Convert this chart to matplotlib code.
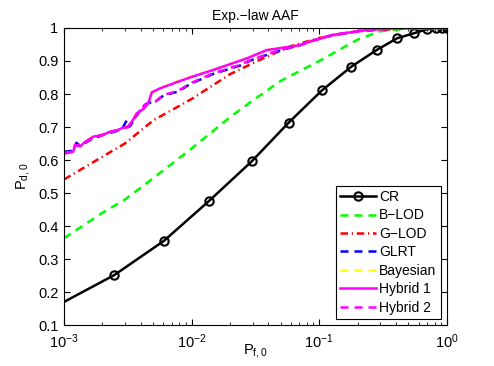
import matplotlib
matplotlib.use('Agg')
import matplotlib.pyplot as plt
import numpy as np

plt.rcParams.update({'font.size': 10, 'font.family': ['Liberation Sans', 'DejaVu Sans']})

# ---- data ----
cr_pf = [1e-3, 0.00248, 0.00604, 0.01368, 0.0295, 0.0575, 0.105, 0.1786,
         0.281, 0.408, 0.551, 0.693, 0.82, 0.908, 1.0]
cr_pd = [0.17, 0.2515, 0.3545, 0.4758, 0.5955, 0.713, 0.811, 0.883,
         0.933, 0.969, 0.984, 0.996, 0.999, 1.0, 1.0]

blod_pf = [1e-3, 2e-3, 3e-3, 5e-3, 1e-2, 2e-2, 3e-2, 5e-2, 0.1, 0.2, 0.3, 0.5, 1.0]
blod_pd = [0.363, 0.44, 0.48, 0.545, 0.635, 0.73, 0.78, 0.84, 0.90, 0.965, 0.99, 0.999, 1.0]

glod_pf = [1e-3, 2e-3, 3e-3, 5e-3, 1e-2, 2e-2, 3.4e-2, 6e-2, 0.1, 0.2, 0.5, 1.0]
glod_pd = [0.541, 0.61, 0.65, 0.72, 0.785, 0.86, 0.903, 0.945, 0.97, 0.99, 0.999, 1.0]

h1_pf = [1e-3, 1.18e-3, 1.22e-3, 1.35e-3, 1.46e-3, 1.7e-3, 2.0e-3, 2.29e-3, 2.6e-3,
         2.83e-3, 3.19e-3, 3.45e-3, 3.71e-3, 4.2e-3, 4.57e-3, 4.87e-3, 5.65e-3,
         7.18e-3, 9.7e-3, 0.0148, 0.0271, 0.0387, 0.0706, 0.0845, 0.128, 0.235,
         0.4, 1.0]
h1_pd = [0.62, 0.625, 0.645, 0.642, 0.655, 0.671, 0.675, 0.686, 0.69,
         0.696, 0.702, 0.72, 0.741, 0.755, 0.772, 0.805, 0.817,
         0.832, 0.85, 0.873, 0.908, 0.933, 0.948, 0.959, 0.979, 0.994,
         0.999, 1.0]

bay_pf = h1_pf
bay_pd = [0.62, 0.625, 0.645, 0.642, 0.655, 0.671, 0.675, 0.686, 0.69,
          0.696, 0.702, 0.722, 0.741, 0.757, 0.772, 0.803, 0.817,
          0.834, 0.851, 0.873, 0.908, 0.933, 0.948, 0.959, 0.979, 0.994,
          0.999, 1.0]

h2_pf = [1e-3, 1.18e-3, 1.22e-3, 1.35e-3, 1.46e-3, 1.7e-3, 2.29e-3, 2.83e-3,
         3.19e-3, 3.71e-3, 4.18e-3, 4.5e-3, 5.2e-3, 6.0e-3, 7.9e-3, 9.7e-3,
         0.0148, 0.0239, 0.0291, 0.049, 0.0706, 0.0845, 0.128, 0.235, 0.4, 1.0]
h2_pd = [0.62, 0.625, 0.645, 0.642, 0.652, 0.668, 0.684, 0.694,
         0.70, 0.735, 0.762, 0.772, 0.777, 0.797, 0.81, 0.832,
         0.863, 0.888, 0.903, 0.933, 0.948, 0.959, 0.979, 0.994, 0.999, 1.0]

glrt_pf = [1e-3, 1.18e-3, 1.25e-3, 1.35e-3, 1.46e-3, 1.7e-3, 2.29e-3, 2.83e-3,
           3.1e-3, 3.19e-3, 3.3e-3, 3.71e-3, 4.18e-3, 4.5e-3, 5.2e-3, 6.0e-3,
           7.9e-3, 9.7e-3, 0.0148, 0.0239, 0.0291, 0.049, 0.0706, 0.0845,
           0.128, 0.235, 0.4, 1.0]
glrt_pd = [0.625, 0.628, 0.652, 0.642, 0.652, 0.666, 0.682, 0.692,
           0.72, 0.70, 0.703, 0.735, 0.764, 0.772, 0.777, 0.795,
           0.808, 0.83, 0.861, 0.886, 0.902, 0.932, 0.948, 0.959,
           0.979, 0.994, 0.999, 1.0]

fig = plt.figure(figsize=(4.94, 3.66), dpi=100, facecolor='w')
ax = fig.add_axes([0.1296, 0.112, 0.775, 0.8115])

ax.semilogx(cr_pf, cr_pd, 'k-', marker='o', markevery=slice(1, None),
            markersize=6, markerfacecolor='none', markeredgewidth=1.5,
            lw=1.8, label='CR')
ax.semilogx(blod_pf, blod_pd, color='#00ff00', ls=(0, (3.2, 2.4)), lw=1.8, label='B\u2212LOD')
ax.semilogx(glod_pf, glod_pd, color='#ff0000', ls=(0, (3, 1.5, 0.5, 1.5)), lw=1.8, label='G\u2212LOD')
ax.semilogx(glrt_pf, glrt_pd, color='#0000ff', ls=(0, (3.2, 2.4)), lw=1.8, label='GLRT')
ax.semilogx(bay_pf, bay_pd, color='#ffff00', ls=(0, (3.2, 2.4)), lw=1.8, label='Bayesian')
ax.semilogx(h1_pf, h1_pd, color='#ff00ff', ls='-', lw=1.8, label='Hybrid 1')
ax.semilogx(h2_pf, h2_pd, color='#ff00ff', ls=(0, (3.2, 2.4)), lw=1.8, label='Hybrid 2')

ax.set_xlim(1e-3, 1)
ax.set_ylim(0.1, 1)
ax.set_yticks(np.arange(0.1, 1.01, 0.1))
ax.set_yticklabels(['0.1', '0.2', '0.3', '0.4', '0.5', '0.6', '0.7', '0.8', '0.9', '1'])
ax.tick_params(which='both', direction='in', top=True, right=True, labelsize=10.5)
ax.tick_params(which='major', length=4)
ax.tick_params(which='minor', length=2)
ax.tick_params(axis='x', pad=5)
ax.tick_params(axis='y', pad=4)

ax.set_title('Exp.\u2212law AAF', fontsize=10, pad=6)
ax.set_xlabel(r'P$_{\mathregular{f,0}}$', labelpad=-6, fontsize=10.5)
ax.set_ylabel(r'P$_{\mathregular{d,0}}$', labelpad=4, fontsize=10.5)

leg = ax.legend(loc='lower right', fancybox=False, edgecolor='k', framealpha=1,
                handlelength=2.6, handletextpad=0.2, labelspacing=0.32,
                borderpad=0.3, borderaxespad=0.45, fontsize=10)
leg.get_frame().set_linewidth(0.8)

plt.savefig('out.png', dpi=100)
